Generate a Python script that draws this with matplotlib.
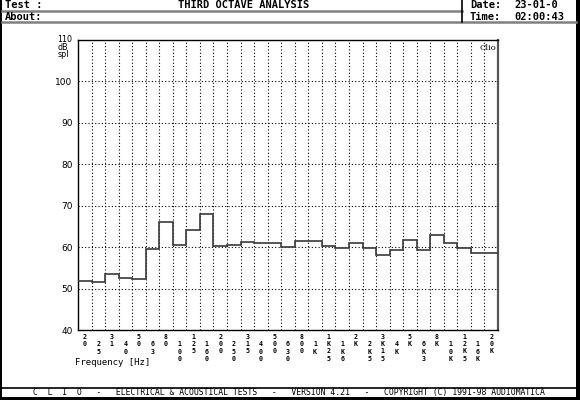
import matplotlib
matplotlib.use('Agg')
import matplotlib.pyplot as plt
import numpy as np
from matplotlib.patches import Rectangle
from matplotlib.lines import Line2D

bands = ['20', '25', '31', '40', '50', '63', '80', '100', '125', '160', '200',
         '250', '315', '400', '500', '630', '800', '1K', '1K25', '1K6', '2K',
         '2K5', '3K15', '4K', '5K', '6K3', '8K', '10K', '12K5', '16K', '20K']
levels = [51.9, 51.5, 53.4, 52.6, 52.3, 59.6, 66.1, 60.4, 64.2, 68.0, 60.2,
          60.4, 61.3, 61.0, 61.0, 60.1, 61.5, 61.5, 60.3, 59.7, 61.1,
          59.7, 58.2, 59.2, 61.7, 59.2, 62.9, 61.1, 59.8, 58.7, 58.7]
yticks = [40, 50, 60, 70, 80, 90, 100, 110]

W, H = 580, 400
fig = plt.figure(figsize=(5.8, 4), dpi=100)
fig.patch.set_facecolor('white')


def fx(x):
    return x / W


def fy(y):
    return 1 - y / H


MONO = 'DejaVu Sans Mono'
GRAY = '#808080'

# outer black frame
for (x0, y0, w, h) in [(0, 0, 2, 400), (576, 0, 4, 400), (0, 397, 580, 3)]:
    fig.add_artist(Rectangle((fx(x0), fy(y0 + h)), w / W, h / H,
                             transform=fig.transFigure, color='black', lw=0))

# header lines
fig.add_artist(Line2D([fx(2), fx(462)], [fy(11), fy(11)], color=GRAY, lw=1.8,
                      transform=fig.transFigure))
fig.add_artist(Line2D([fx(2), fx(576)], [fy(22), fy(22)], color=GRAY, lw=1.8,
                      transform=fig.transFigure))
fig.add_artist(Line2D([fx(462), fx(462)], [fy(0), fy(22)], color='black', lw=1.2,
                      transform=fig.transFigure))
# footer line
fig.add_artist(Line2D([fx(2), fx(576)], [fy(387.5), fy(387.5)], color='black', lw=1.2,
                      transform=fig.transFigure))

hdr = dict(family=MONO, fontweight='bold', fontsize=7.5, va='center', color='black')
fig.text(fx(5), fy(5.5), 'Test :', ha='left', **hdr)
fig.text(fx(5), fy(16.5), 'About:', ha='left', **hdr)
fig.text(fx(244), fy(5.5), 'THIRD OCTAVE ANALYSIS', ha='center', **hdr)
fig.text(fx(470), fy(5.5), 'Date:', ha='left', **hdr)
fig.text(fx(514), fy(5.5), '23-01-0', ha='left', **hdr)
fig.text(fx(470), fy(16.5), 'Time:', ha='left', **hdr)
fig.text(fx(514), fy(16.5), '02:00:43', ha='left', **hdr)

fig.text(fx(289), fy(392.5),
         'C  L  I  O   -   ELECTRICAL & ACOUSTICAL TESTS   -   VERSION 4.21   -   COPYRIGHT (C) 1991-98 AUDIOMATICA',
         ha='center', va='center', family=MONO, fontsize=5.9, color='black')

# plot area
ax = fig.add_axes([fx(78), fy(330), (498 - 78) / W, (330 - 40) / H])
n = len(bands)
edges = np.arange(n + 1)
ax.set_xlim(0, n)
ax.set_ylim(40, 110)

dot = (0, (1, 2))
for yv in yticks[1:-1]:
    ax.axhline(yv, color='black', lw=0.8, ls=dot, zorder=1)
for e in edges[1:-1]:
    ax.axvline(e, color='black', lw=0.8, ls=dot, zorder=1)

ax.stairs(levels, edges, color='#3a3a3a', lw=1.2, zorder=3, baseline=None)

ax.set_yticks(yticks)
ax.set_yticklabels([str(v) for v in yticks[:-1]] + [''], fontsize=6.5,
                   family='DejaVu Sans')
ax.tick_params(axis='y', length=0, pad=4)
ax.set_xticks([])
for s in ['left', 'top', 'bottom']:
    ax.spines[s].set_color('black')
    ax.spines[s].set_linewidth(1.0)
ax.spines['right'].set_color('#555555')
ax.spines['right'].set_linewidth(1.6)

# stacked x labels, one character per text
xt = ax.get_xaxis_transform()
for i, lab in enumerate(bands):
    y0 = 337 if i % 2 == 0 else 344.5
    for k, ch in enumerate(lab):
        ypx = y0 + 7.2 * k
        ax.text(i + 0.5, -(ypx - 330) / 290, ch, transform=xt, ha='center',
                va='center', fontsize=4.8, family=MONO, fontweight='bold',
                clip_on=False)

fig.text(fx(57.5), fy(39.5), '110', ha='left', va='center', fontsize=5.8)
fig.text(fx(57.5), fy(47), 'dB', ha='left', va='center', fontsize=5.8)
fig.text(fx(57.5), fy(54.5), 'spl', ha='left', va='center', fontsize=5.8)
fig.text(fx(75), fy(362.5), 'Frequency [Hz]', ha='left', va='center',
         family=MONO, fontsize=6.5)
ax.text(0.997, 0.985, 'Clio', transform=ax.transAxes, ha='right', va='top',
        family='DejaVu Serif', fontsize=6)

fig.savefig('out.png', dpi=100, facecolor='white')
